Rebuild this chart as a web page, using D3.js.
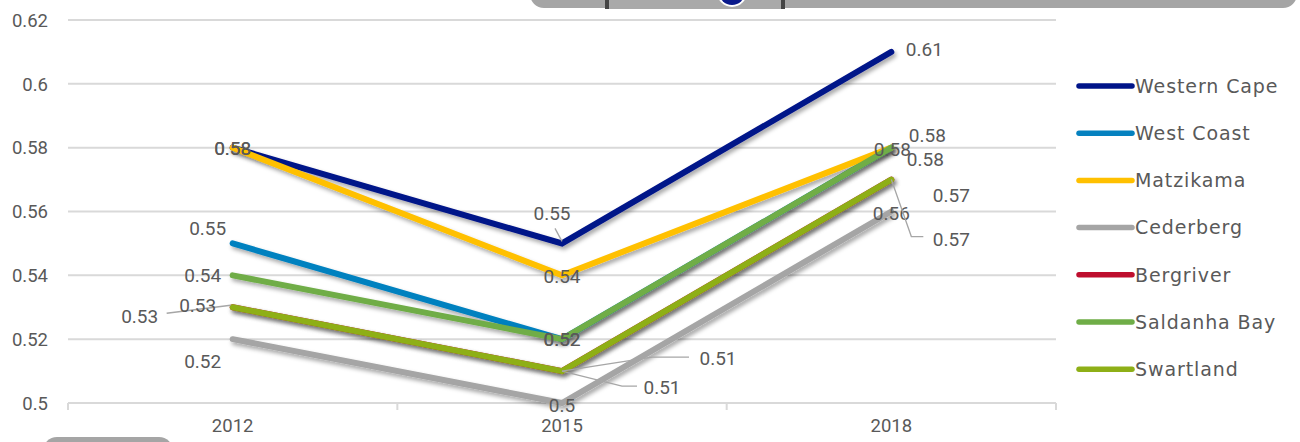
<!DOCTYPE html>
<html><head><meta charset="utf-8">
<script src="https://cdn.jsdelivr.net/npm/d3@7"></script>
<style>
html,body{margin:0;padding:0;background:#fff;}
svg{display:block;}
text{font-family:Roboto, "DejaVu Sans", sans-serif;fill:#595959;}
</style></head>
<body>
<svg id="c" width="1300" height="442"></svg>
<script>
// ---- data ----
const years = ["2012", "2015", "2018"];
const seriesNames = ["Western Cape", "West Coast", "Matzikama", "Cederberg", "Bergriver", "Saldanha Bay", "Swartland"];
const westernCape = [0.58, 0.55, 0.61];
const westCoast   = [0.55, 0.52, 0.58];
const matzikama   = [0.58, 0.54, 0.58];
const cederberg   = [0.52, 0.50, 0.56];
const bergriver   = [0.53, 0.51, 0.57];
const saldanhaBay = [0.54, 0.52, 0.58];
const swartland   = [0.53, 0.51, 0.57];
const yTickValues = [0.5, 0.52, 0.54, 0.56, 0.58, 0.6, 0.62];
const yTickLabels = ["0.5", "0.52", "0.54", "0.56", "0.58", "0.6", "0.62"];

const seriesValues = [westernCape, westCoast, matzikama, cederberg, bergriver, saldanhaBay, swartland];
const colors = ["#001489", "#0581BF", "#FFC000", "#A5A5A5", "#BE0E2E", "#6FAD47", "#8EAF17"];

// label placement (layout only): [dx, dy, leaderPoints(relative) or null]
const labelLayout = [
  [[0,0,null],[-10,-30,[[-7,-15],[0,-2]]],[33,-3,null]],
  [[-25,-15,null],[0,0,null],[36,-13,null]],
  [[0,0,null],[0,1,null],[1,1,null]],
  [[-30,22,null],[0,2,null],[0,2,null]],
  [[-93,9,[[-66,6],[-18,0],[-2,-2]]],[156,-13,[[0,0],[90,-14],[127,-14]]],[60,16,null]],
  [[-30,0,null],[0,0,null],[34,11,null]],
  [[-35,-2,null],[100,16,[[0,0],[60,15],[75,15]]],[60,60,[[0,0],[20,57],[32,57]]]]
];

const svg = d3.select("#c");
const x = d3.scaleBand().domain(years).range([68, 1056]).paddingInner(0).paddingOuter(0);
const y = d3.scaleLinear().domain([0.5, 0.62]).range([403, 20]);
const cx = d => x(d) + x.bandwidth()/2;

// decorative slide fragments
svg.append("rect").attr("x", 530).attr("y", -30).attr("width", 767).attr("height", 38).attr("rx", 14).attr("fill", "#A5A5A5");
svg.append("rect").attr("x", 605).attr("y", -2).attr("width", 180).attr("height", 11).attr("fill", "#444");
svg.append("rect").attr("x", 609).attr("y", -2).attr("width", 172).attr("height", 11).attr("fill", "#A9A9A9");
svg.append("circle").attr("cx", 732).attr("cy", -8).attr("r", 15).attr("fill", "#fff");
svg.append("circle").attr("cx", 732).attr("cy", -8).attr("r", 13).attr("fill", "#0A1A8C");
svg.append("rect").attr("x", 43).attr("y", 437).attr("width", 130).attr("height", 30).attr("rx", 14).attr("fill", "#A5A5A5");

// defs
const defs = svg.append("defs");
const f = defs.append("filter").attr("id", "sh").attr("x", "-10%").attr("y", "-10%").attr("width", "130%").attr("height", "140%");
f.append("feDropShadow").attr("dx", 2).attr("dy", 3).attr("stdDeviation", 2).attr("flood-color", "#000").attr("flood-opacity", 0.35);

// gridlines
const yAxis = d3.axisLeft(y).tickValues(yTickValues).tickFormat((d, i) => yTickLabels[i]).tickSize(0).tickPadding(20);
const gy = svg.append("g").attr("transform", "translate(68,0)").call(yAxis);
gy.select(".domain").remove();
gy.selectAll("text").style("font-size", "18.5px").attr("fill", "#595959").attr("dy", "0.34em");
svg.append("g").selectAll("line").data(yTickValues.slice(1)).join("line")
  .attr("x1", 68).attr("x2", 1056).attr("y1", d => y(d)).attr("y2", d => y(d))
  .attr("stroke", "#D9D9D9").attr("stroke-width", 2);

// x axis
const xAxis = d3.axisBottom(x).tickSize(0).tickPadding(20);
const gx = svg.append("g").attr("transform", "translate(0,403)").call(xAxis);
gx.select(".domain").attr("stroke", "#D9D9D9").attr("stroke-width", 2).attr("d", "M68,0H1056");
gx.selectAll("text").style("font-size", "18.5px").attr("fill", "#595959").attr("dy", "0.5em");
const boundaries = [68, x("2015"), x("2018"), 1056];
svg.append("g").selectAll("line").data(boundaries).join("line")
  .attr("x1", d => d).attr("x2", d => d).attr("y1", 403).attr("y2", 410)
  .attr("stroke", "#D9D9D9").attr("stroke-width", 2);

// lines
const line = d3.line().x((d, i) => cx(years[i])).y(d => y(d));
const gl = svg.append("g");
seriesValues.forEach((vals, si) => {
  gl.append("path").datum(vals).attr("d", line).attr("fill", "none")
    .attr("stroke", colors[si]).attr("stroke-width", 6)
    .attr("stroke-linejoin", "miter").attr("stroke-linecap", "round")
    .attr("filter", "url(#sh)");
});

// labels
const glab = svg.append("g");
seriesValues.forEach((vals, si) => {
  vals.forEach((v, i) => {
    const px = cx(years[i]), py = y(v);
    const [dx, dy, leader] = labelLayout[si][i];
    if (leader) {
      glab.append("polyline")
        .attr("points", leader.map(p => (px + p[0]) + "," + (py + p[1])).join(" "))
        .attr("fill", "none").attr("stroke", "#A6A6A6").attr("stroke-width", 1.3);
    }
    glab.append("text").attr("x", px + dx).attr("y", py + dy).attr("dy", "0.36em")
      .attr("text-anchor", "middle").style("font-size", "19px").text(d3.format("")(v));
  });
});

// legend
const lg = svg.append("g");
seriesNames.forEach((n, i) => {
  const ly = 86 + i * 47.2;
  lg.append("line").attr("x1", 1079).attr("x2", 1132).attr("y1", ly).attr("y2", ly)
    .attr("stroke", colors[i]).attr("stroke-width", 5.5).attr("stroke-linecap", "round");
  lg.append("text").attr("x", 1135).attr("y", ly).attr("dy", "0.36em")
    .style("font-family", "'DejaVu Sans', sans-serif").style("font-size", "19px")
    .style("letter-spacing", "0.9px").text(n);
});
</script>
</body></html>
